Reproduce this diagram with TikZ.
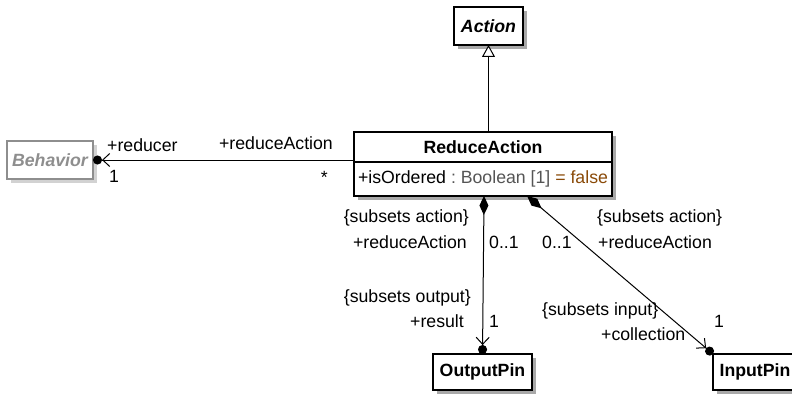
\documentclass[tikz,border=0pt]{standalone}
\usepackage{fontspec}
\setmainfont{Liberation Sans}
\usepackage{xcolor}
\usepackage{tikz}
\usetikzlibrary{positioning, calc, arrows.meta, shadows}
\definecolor{shadowGray}{HTML}{A9A9A9}
\definecolor{abstractGray}{HTML}{8E8E8E}
\definecolor{abstractShadow}{HTML}{D2D2D2}
\definecolor{typeGray}{HTML}{555555}
\definecolor{valueBrown}{HTML}{8A4A08}
\frenchspacing

\tikzset{
    umlbox/.style={draw, line width=1.2pt, fill=white, inner sep=0pt, outer sep=0pt,
        font=\fontsize{17.7}{20}\selectfont\bfseries,
        drop shadow={shadow xshift=4pt, shadow yshift=-4pt, fill=shadowGray, opacity=1}},
    abstractbox/.style={umlbox, draw=abstractGray, text=abstractGray,
        drop shadow={shadow xshift=4pt, shadow yshift=-4pt, fill=abstractShadow, opacity=1}},
    attrbox/.style={umlbox, font=\fontsize{17.7}{20}\selectfont},
    lbl/.style={inner sep=0pt, font=\fontsize{17.7}{20}\selectfont},
    assoc/.style={line width=1pt, -{Straight Barb[length=7pt,width=13pt] Circle[length=9pt]}},
    compose/.style={line width=1pt,
        {Diamond[length=19pt,width=9pt]}-{Straight Barb[length=7pt,width=13pt] Circle[length=9pt]}},
    generalize/.style={line width=1pt, -{Triangle[length=12pt,width=13pt,fill=white]}}
}

\begin{document}
\begin{tikzpicture}[x=1pt, y=-1pt]
    \useasboundingbox (0,0) rectangle (792,396);

    % classes
    \node[umlbox, minimum width=69pt, minimum height=38pt] (action) at (488.5,26) {\itshape Action};
    \node[abstractbox, minimum width=86pt, minimum height=38pt] (behavior) at (50,160) {\itshape Behavior};
    \node[umlbox, minimum width=258pt, minimum height=30pt] (reduce) at (483,147) {ReduceAction};
    \node[attrbox, minimum width=258pt, minimum height=34pt, below=0pt of reduce] (reduceAttr)
        {+isOrdered \textcolor{typeGray}{: Boolean [1]} \textcolor{valueBrown}{= false}};
    \node[umlbox, minimum width=99pt, minimum height=36pt] (outPin) at (482.5,372) {OutputPin};
    \node[umlbox, minimum width=84pt, minimum height=36pt] (inPin) at (755,372) {InputPin};

    % generalization
    \draw[generalize] (reduce.north -| action.south) -- (action.south);

    % reducer
    \draw[assoc] (behavior.east -| reduce.west) -- (behavior.east);
    \node[lbl, anchor=west] (reducerRole) at (107,145) {+reducer};
    \node[lbl, anchor=west] (reducerMult) at (109,176) {1};
    \node[lbl, anchor=east] (reduceRole) at (333,143) {+reduceAction};
    \node[lbl, anchor=east] (reduceMult) at (328,177) {*};

    % result
    \draw[compose] ($(reduceAttr.south west)!0.504!(reduceAttr.south east)$) -- (outPin.north);
    \node[lbl, anchor=east] (resSubsetsAct) at (469,218) {\{subsets action\}};
    \node[lbl, anchor=east] (resActRole) at (467,242) {+reduceAction};
    \node[lbl, anchor=west] (resActMult) at (489,242) {0..1};
    \node[lbl, anchor=east] (resSubsetsOut) at (471,298) {\{subsets output\}};
    \node[lbl, anchor=east] (resRole) at (464,321) {+result};
    \node[lbl, anchor=west] (resMult) at (489,321) {1};

    % collection
    \draw[compose] ($(reduceAttr.south west)!0.671!(reduceAttr.south east)$) -- (inPin.north west);
    \node[lbl, anchor=west] (colActMult) at (542,242) {0..1};
    \node[lbl, anchor=west] (colSubsetsAct) at (597,218) {\{subsets action\}};
    \node[lbl, anchor=west] (colActRole) at (598,242) {+reduceAction};
    \node[lbl, anchor=west] (colSubsetsIn) at (542,311) {\{subsets input\}};
    \node[lbl, anchor=west] (colRole) at (601,334) {+collection};
    \node[lbl, anchor=west] (colMult) at (714,321) {1};
\end{tikzpicture}
\end{document}
